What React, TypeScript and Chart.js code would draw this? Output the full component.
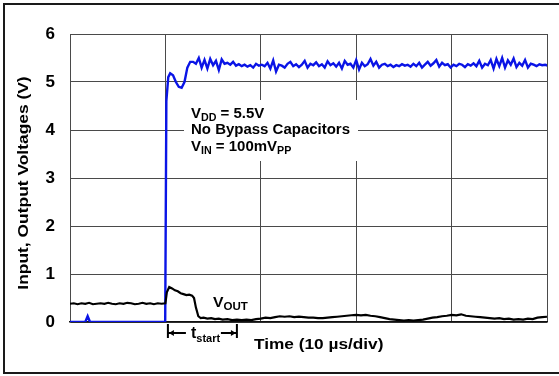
import React, { useEffect, useRef } from "react";
import { Chart, registerables } from "chart.js";

Chart.register(...registerables);

// ---- data ----
const yTickValues = [0, 1, 2, 3, 4, 5, 6];
const timeDivisions = [0, 10, 20, 30, 40, 50]; // µs, 10 µs/div

// Input (blue): edge region
const vInEdgeTime = [0, 1.6, 1.85, 2.1, 9.98, 10.1, 10.3, 10.5, 10.8, 11.1, 11.4, 11.7, 12.0, 12.3, 12.6];
const vInEdgeVolts = [0, 0, 0.12, 0, 0, 4.6, 5.1, 5.18, 5.14, 5.0, 4.9, 4.88, 5.0, 5.3, 5.42];
// Input (blue): settled noisy region, sampled every 0.3 µs from 12.9 µs
const vInNoiseStart = 12.9;
const vInNoiseStep = 0.3;
const vInNoiseVolts = [
  5.42, 5.38, 5.5, 5.3, 5.46, 5.28, 5.48, 5.35, 5.44, 5.25, 5.47, 5.38, 5.4, 5.36, 5.42, 5.34, 5.37, 5.33, 5.36, 5.32, 5.35, 5.3, 5.38, 5.34, 5.36,
  5.33, 5.4, 5.28, 5.45, 5.22, 5.36, 5.34, 5.3, 5.38, 5.42, 5.33, 5.37, 5.31, 5.36, 5.44, 5.3, 5.38, 5.35, 5.41, 5.33, 5.37, 5.3, 5.43, 5.35, 5.39,
  5.32, 5.4, 5.28, 5.44, 5.36, 5.38, 5.3, 5.46, 5.26, 5.4, 5.33, 5.37, 5.48, 5.34, 5.42, 5.3, 5.36, 5.38, 5.33, 5.36, 5.31, 5.35, 5.33, 5.37, 5.34,
  5.36, 5.32, 5.38, 5.33, 5.4, 5.3, 5.36, 5.42, 5.34, 5.39, 5.46, 5.32, 5.4, 5.35, 5.37, 5.3, 5.36, 5.33, 5.38, 5.36, 5.31, 5.37, 5.34, 5.39, 5.33,
  5.44, 5.3, 5.38, 5.35, 5.46, 5.28, 5.48, 5.33, 5.5, 5.3, 5.45, 5.36, 5.49, 5.31, 5.4, 5.34, 5.46, 5.3, 5.38, 5.36, 5.33, 5.37, 5.35, 5.36, 5.34,
];

// Output (black)
const vOutTime = [
  0, 0.4, 0.8, 1.2, 1.6, 2.0, 2.4, 2.8, 3.2, 3.6, 4.0, 4.4, 4.8, 5.2, 5.6, 6.0, 6.4, 6.8, 7.2, 7.6, 8.0, 8.4, 8.8, 9.2, 9.6, 10.0,
  10.15, 10.4, 10.7, 11.0, 11.3, 11.6, 11.9, 12.2, 12.5, 12.8, 13.0, 13.2, 13.45, 13.7, 14.0, 14.4, 14.8, 15.2, 15.6, 16.0, 16.5, 17.0, 17.5, 18.0, 18.5, 19.0, 19.5,
  20.0, 20.5, 21.0, 21.5, 22.0, 22.5, 23.0, 23.5, 24.0, 24.5, 25.0, 25.5, 26.0, 26.5, 27.0, 27.5, 28.0, 28.5, 29.0, 29.5,
  30.0, 30.5, 31.0, 31.5, 32.0, 32.5, 33.0, 33.5, 34.0, 34.5, 35.0, 35.5, 36.0, 36.5, 37.0, 37.5, 38.0, 38.5, 39.0, 39.5,
  40.0, 40.5, 41.0, 41.5, 42.0, 42.5, 43.0, 43.5, 44.0, 44.5, 45.0, 45.5, 46.0, 46.5, 47.0, 47.5, 48.0, 48.5, 49.0, 49.5, 50.0,
];
const vOutVolts = [
  0.38, 0.39, 0.37, 0.39, 0.38, 0.4, 0.37, 0.38, 0.39, 0.38, 0.4, 0.38, 0.37, 0.39, 0.38, 0.4, 0.39, 0.37, 0.38, 0.4, 0.38, 0.39, 0.37, 0.39, 0.38, 0.39,
  0.62, 0.73, 0.7, 0.66, 0.64, 0.6, 0.58, 0.56, 0.57, 0.55, 0.5, 0.3, 0.12, 0.08, 0.09, 0.07, 0.08, 0.06, 0.07, 0.05, 0.06, 0.04, 0.05, 0.04, 0.05, 0.04, 0.06,
  0.07, 0.09, 0.08, 0.1, 0.12, 0.11, 0.12, 0.1, 0.11, 0.1, 0.09, 0.09, 0.08, 0.08, 0.09, 0.1, 0.11, 0.12, 0.13, 0.14,
  0.15, 0.14, 0.15, 0.13, 0.12, 0.1, 0.08, 0.06, 0.05, 0.04, 0.03, 0.04, 0.03, 0.04, 0.05, 0.07, 0.09, 0.1, 0.12, 0.13,
  0.15, 0.14, 0.16, 0.13, 0.12, 0.11, 0.1, 0.09, 0.08, 0.07, 0.08, 0.06, 0.07, 0.05, 0.06, 0.05, 0.07, 0.06, 0.09, 0.1, 0.11,
];

// ---- text ----
const yAxisTitle = "Input, Output Voltages (V)";
const xAxisTitle = "Time (10 µs/div)";
const FONT = '"Liberation Sans", Arial, Helvetica, sans-serif';

type Part = { t: string; sub?: boolean };
const noteLines: Part[][] = [
  [{ t: "V" }, { t: "DD", sub: true }, { t: " = 5.5V" }],
  [{ t: "No Bypass Capacitors" }],
  [{ t: "V" }, { t: "IN", sub: true }, { t: " = 100mV" }, { t: "PP", sub: true }],
];
const voutLabel: Part[] = [{ t: "V" }, { t: "OUT", sub: true }];
const tstartLabel: Part[] = [{ t: "t" }, { t: "start", sub: true }];

function drawRich(
  ctx: CanvasRenderingContext2D,
  x: number,
  y: number,
  parts: Part[],
  size: number,
  subSize: number,
  subDy: number,
  sx: number
) {
  ctx.save();
  ctx.translate(x, y);
  ctx.scale(sx, 1);
  ctx.textBaseline = "alphabetic";
  ctx.textAlign = "left";
  ctx.fillStyle = "#000";
  let cx = 0;
  for (const p of parts) {
    ctx.font = `bold ${p.sub ? subSize : size}px ${FONT}`;
    ctx.fillText(p.t, cx, p.sub ? subDy : 0);
    cx += ctx.measureText(p.t).width;
  }
  ctx.restore();
}

const annotations = {
  id: "annotations",
  afterDraw(chart: any) {
    const ctx: CanvasRenderingContext2D = chart.ctx;
    const xs = chart.scales.x;
    const ys = chart.scales.y;
    ctx.save();
    // white box behind the condition note (breaks the grid lines)
    ctx.fillStyle = "#fff";
    ctx.fillRect(184, 100, 174, 61);
    drawRich(ctx, 191, 117.5, noteLines[0], 14, 10, 3.5, 1.07);
    drawRich(ctx, 191, 134, noteLines[1], 14, 10, 3.5, 1.07);
    drawRich(ctx, 191, 150.5, noteLines[2], 14, 10, 3.5, 1.07);

    // V_OUT label
    drawRich(ctx, 213, 307, voutLabel, 15, 11, 2.5, 1.05);

    // t_start dimension arrow
    const x0 = xs.getPixelForValue(10) + 2.5;
    const x1 = x0 + 69;
    const yy = ys.getPixelForValue(0) + 11;
    ctx.strokeStyle = "#000";
    ctx.fillStyle = "#000";
    ctx.lineWidth = 2;
    ctx.beginPath();
    ctx.moveTo(x0, yy - 9);
    ctx.lineTo(x0, yy + 5);
    ctx.moveTo(x1, yy - 9);
    ctx.lineTo(x1, yy + 5);
    ctx.moveTo(x0, yy);
    ctx.lineTo(x0 + 18, yy);
    ctx.moveTo(x1 - 16, yy);
    ctx.lineTo(x1, yy);
    ctx.stroke();
    ctx.beginPath();
    ctx.moveTo(x0 + 1, yy);
    ctx.lineTo(x0 + 6, yy - 3);
    ctx.lineTo(x0 + 6, yy + 3);
    ctx.closePath();
    ctx.moveTo(x1 - 1, yy);
    ctx.lineTo(x1 - 6, yy - 3);
    ctx.lineTo(x1 - 6, yy + 3);
    ctx.closePath();
    ctx.fill();
    drawRich(ctx, 191, yy + 5, tstartLabel, 16, 11, 3.5, 1.0);

    // x axis title
    ctx.save();
    ctx.translate(254, 349);
    ctx.scale(1.15, 1);
    ctx.font = `bold 15px ${FONT}`;
    ctx.fillStyle = "#000";
    ctx.textAlign = "left";
    ctx.textBaseline = "alphabetic";
    ctx.fillText(xAxisTitle, 0, 0);
    ctx.restore();

    // y axis title
    ctx.save();
    ctx.translate(27.5, 183);
    ctx.rotate(-Math.PI / 2);
    ctx.scale(1.2, 1);
    ctx.font = `bold 14.5px ${FONT}`;
    ctx.fillStyle = "#000";
    ctx.textAlign = "center";
    ctx.textBaseline = "alphabetic";
    ctx.fillText(yAxisTitle, 0, 0);
    ctx.restore();

    ctx.restore();
  },
};

export default function App() {
  const ref = useRef<HTMLCanvasElement | null>(null);

  useEffect(() => {
    document.body.style.margin = "0";
    const canvas = ref.current;
    if (!canvas) return;
    const vIn = [
      ...vInEdgeTime.map((t, i) => ({ x: t, y: vInEdgeVolts[i] })),
      ...vInNoiseVolts.map((v, i) => ({ x: vInNoiseStart + i * vInNoiseStep, y: v })),
    ];
    const vOut = vOutTime.map((t, i) => ({ x: t, y: vOutVolts[i] }));
    const chart = new Chart(canvas, {
      type: "line",
      data: {
        datasets: [
          {
            label: "VOUT",
            data: vOut,
            borderColor: "#000",
            borderWidth: 2.2,
            pointRadius: 0,
            tension: 0,
          },
          {
            label: "VIN",
            data: vIn,
            borderColor: "#0a14e6",
            borderWidth: 2.4,
            pointRadius: 0,
            tension: 0,
          },
        ],
      },
      options: {
        animation: false,
        responsive: false,
        devicePixelRatio: 1,
        layout: { padding: { left: 0, top: 34, right: 12, bottom: 54 } },
        plugins: { legend: { display: false }, tooltip: { enabled: false } },
        scales: {
          x: {
            type: "linear",
            min: timeDivisions[0],
            max: timeDivisions[timeDivisions.length - 1],
            afterBuildTicks: (s: any) => {
              s.ticks = timeDivisions.map((v) => ({ value: v }));
            },
            afterFit: (s: any) => {
              s.height = 0;
            },
            ticks: { display: false },
            grid: { color: "#4a4a4a", lineWidth: 1, drawTicks: false },
            border: { display: true, color: "#111", width: 1.5 },
          },
          y: {
            type: "linear",
            min: 0,
            max: 6,
            afterBuildTicks: (s: any) => {
              s.ticks = yTickValues.map((v) => ({ value: v }));
            },
            afterFit: (s: any) => {
              s.width = 70;
            },
            ticks: {
              padding: 15,
              color: "#000",
              font: { family: FONT, size: 17, weight: "bold" },
            },
            grid: { color: "#4a4a4a", lineWidth: 1, drawTicks: false },
            border: { display: true, color: "#4a4a4a", width: 1 },
          },
        },
      },
      plugins: [annotations],
    });
    return () => chart.destroy();
  }, []);

  return (
    <div style={{ position: "absolute", left: 0, top: 0, width: 559, height: 376, overflow: "hidden", background: "#fff" }}>
      <div
        style={{
          position: "absolute",
          left: 3,
          top: 3,
          width: 600,
          height: 371,
          boxSizing: "border-box",
          border: "2px solid #1a1a1a",
        }}
      />
      <canvas ref={ref} width={559} height={376} style={{ position: "absolute", left: 0, top: 0 }} />
    </div>
  );
}
